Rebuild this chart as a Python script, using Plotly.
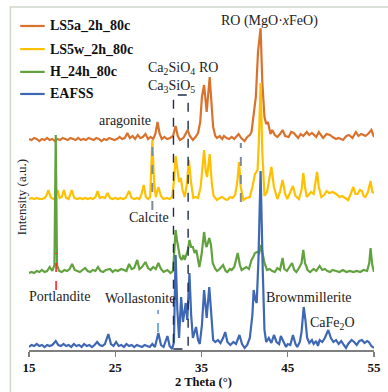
import plotly.graph_objects as go

# ---------------- data (2-theta in degrees, intensity in a.u.) ----------------
theta_eafss = [15.0, 15.3, 15.6, 15.9, 16.2, 16.5, 16.8, 17.1, 17.4, 17.7, 18.1, 18.4, 18.7, 19.0, 19.3, 19.6, 19.9,
               20.2, 20.5, 20.8, 21.1, 21.4, 21.7, 22.0, 22.3, 22.6, 22.9, 23.2, 23.5, 23.8, 24.2, 24.5, 24.8, 25.1,
               25.4, 25.7, 26.0, 26.3, 26.6, 26.9, 27.2, 27.5, 27.8, 28.1, 28.4, 28.7, 29.0, 29.3, 29.6, 30.0, 30.3,
               30.6, 31.05, 31.3, 31.6, 31.8, 32.0, 32.2, 32.4, 32.64, 32.85, 33.17, 33.35, 33.6, 33.8, 34.0, 34.37,
               34.6, 34.8, 35.05, 35.3, 35.6, 35.9, 36.1, 36.35, 36.6, 36.9, 37.2, 37.5, 37.75, 38.0, 38.35, 38.7,
               39.0, 39.4, 39.7, 40.0, 40.3, 40.6, 40.9, 41.05, 41.25, 41.4, 41.6, 41.85, 42.1, 42.3, 42.5, 42.8,
               43.1, 43.4, 43.7, 44.0, 44.2, 44.5, 44.8, 45.0, 45.3, 45.6, 45.9, 46.1, 46.4, 46.6, 46.85, 47.05,
               47.25, 47.5, 47.8, 48.0, 48.3, 48.5, 48.7, 49.0, 49.3, 49.7, 50.0, 50.3, 50.6, 50.9, 51.2, 51.5,
               51.75, 52.0, 52.4, 52.7, 53.0, 53.3, 53.6, 53.9, 54.2, 54.4, 54.7, 55.0]
int_eafss = [3, 5, 4, 6, 4, 5, 3, 5, 4, 5, 9, 5, 4, 6, 4, 5, 3,
             6, 4, 5, 3, 6, 4, 5, 3, 5, 8, 5, 4, 6, 16, 6, 4, 8,
             4, 5, 3, 6, 4, 5, 3, 5, 4, 3, 5, 4, 3, 6, 3, 17, 5,
             3, 14, 4, 1, 8, 95, 40, 12, 53, 28, 47, 30, 77, 35, 12, 23,
             10, 6, 25, 60, 32, 63, 40, 10, 8, 10, 7, 12, 18, 8, 5, 8,
             6, 15, 6, 2, 5, 12, 35, 60, 50, 47, 90, 179, 80, 20, 8, 12,
             7, 15, 8, 6, 14, 8, 3, 6, 5, 15, 6, 3, 8, 18, 43, 30,
             12, 7, 10, 6, 9, 4, 10, 8, 12, 20, 12, 8, 10, 6, 9, 5,
             2, 6, 10, 8, 5, 9, 10, 7, 9, 8, 4, 2]

theta_h24 = [15.0, 15.3, 15.6, 15.9, 16.2, 16.5, 16.8, 17.1, 17.4, 17.7, 17.95, 18.1, 18.25, 18.5, 18.8, 19.1,
             19.4, 19.7, 20.0, 20.3, 20.6, 20.9, 21.2, 21.5, 21.8, 22.1, 22.4, 22.7, 23.0, 23.3, 23.6, 23.9, 24.4,
             24.7, 25.0, 25.3, 25.7, 26.0, 26.3, 26.6, 26.9, 27.2, 27.55, 27.8, 28.1, 28.5, 28.8, 29.1, 29.4,
             29.7, 30.0, 30.3, 30.6, 31.05, 31.4, 31.7, 31.85, 32.0, 32.15, 32.3, 32.5, 32.7, 32.9, 33.05, 33.25,
             33.45, 33.6, 33.8, 34.0, 34.2, 34.4, 34.6, 34.75, 35.0, 35.3, 35.5, 35.6, 35.9, 36.1, 36.3, 36.6,
             36.8, 37.1, 37.5, 37.8, 38.0, 38.3, 38.5, 38.8, 39.2, 39.45, 39.65, 40.0, 40.2, 40.5, 40.8, 41.0,
             41.2, 41.45, 41.7, 41.9, 42.1, 42.3, 42.6, 42.9, 43.2, 43.5, 43.8, 44.1, 44.4, 44.6, 44.9, 45.2,
             45.5, 45.75, 46.0, 46.3, 46.6, 46.8, 47.0, 47.3, 47.6, 48.0, 48.3, 48.7, 49.0, 49.3, 49.6, 49.9,
             50.2, 50.6, 51.0, 51.4, 51.8, 52.2, 52.6, 53.0, 53.4, 53.8, 54.2, 54.45, 54.6, 54.8, 55.0]
int_h24 = [2, 3, 2, 4, 3, 5, 3, 4, 8, 4, 10, 140, 10, 4, 3, 5,
           4, 6, 11, 5, 4, 3, 5, 7, 4, 3, 5, 4, 8, 4, 3, 5, 6,
           3, 5, 4, 6, 5, 4, 11, 6, 7, 15, 6, 8, 13, 7, 5, 8,
           6, 12, 6, 3, 5, 2, 4, 20, 45, 35, 28, 18, 15, 20, 15, 20,
           26, 35, 28, 28, 22, 25, 15, 8, 20, 43, 30, 28, 37, 30, 12, 6,
           4, 6, 10, 4, 3, 6, 5, 8, 22, 10, 5, 7, 8, 6, 15, 18,
           22, 23, 22, 30, 20, 12, 5, 6, 4, 3, 7, 5, 17, 6, 4, 8,
           12, 5, 3, 7, 12, 25, 12, 5, 3, 6, 4, 9, 5, 6, 4, 3,
           5, 4, 3, 5, 3, 4, 3, 4, 3, 5, 4, 12, 27, 10, 3]

theta_ls5w = [15.0, 15.3, 15.6, 15.9, 16.2, 16.5, 16.8, 17.0, 17.25, 17.5, 17.8, 18.0, 18.3, 18.55, 18.8, 19.05,
              19.3, 19.6, 19.95, 20.25, 20.6, 20.9, 21.2, 21.5, 21.8, 22.1, 22.4, 22.7, 22.95, 23.2, 23.5, 23.8,
              24.1, 24.4, 24.7, 25.0, 25.3, 25.6, 25.9, 26.2, 26.6, 26.9, 27.2, 27.5, 27.8, 28.05, 28.3, 28.55,
              28.8, 29.05, 29.3, 29.5, 29.7, 30.0, 30.3, 30.6, 31.0, 31.3, 31.6, 31.85, 32.0, 32.2, 32.4, 32.6,
              32.8, 33.05, 33.3, 33.55, 33.75, 34.05, 34.3, 34.6, 34.9, 35.3, 35.5, 35.65, 35.95, 36.2, 36.4,
              36.8, 37.1, 37.4, 37.7, 38.0, 38.3, 38.6, 38.9, 39.15, 39.35, 39.55, 39.85, 40.2, 40.6, 40.9, 41.2,
              41.5, 41.65, 41.85, 42.05, 42.3, 42.6, 43.1, 43.4, 43.8, 44.1, 44.4, 44.7, 44.95, 45.3, 45.6, 45.9,
              46.3, 46.6, 46.8, 47.0, 47.2, 47.5, 47.7, 48.0, 48.4, 48.6, 48.9, 49.2, 49.5, 49.8, 50.2, 50.6,
              51.0, 51.3, 51.6, 52.0, 52.3, 52.6, 52.85, 53.1, 53.35, 53.6, 53.8, 54.0, 54.3, 54.6, 54.8, 55.0]
int_ls5w = [3, 4, 3, 4, 3, 3, 4, 6, 12, 5, 3, 4, 12, 4, 5, 12,
            4, 3, 12, 4, 3, 4, 3, 4, 3, 4, 3, 5, 11, 4, 5, 4,
            9, 4, 3, 4, 3, 4, 3, 4, 11, 4, 3, 4, 3, 8, 17, 5,
            3, 5, 62, 20, 5, 15, 6, 3, 4, 3, 5, 25, 46, 30, 20, 24,
            12, 5, 18, 42, 22, 4, 5, 4, 15, 52, 30, 25, 48, 18, 6,
            2, 4, 5, 3, 2, 5, 4, 7, 20, 40, 15, 2, 4, 5, 15, 28,
            32, 60, 119, 50, 6, 10, 35, 15, 3, 10, 22, 8, 3, 10, 16, 6,
            3, 12, 29, 15, 5, 8, 10, 8, 30, 15, 5, 7, 11, 9, 10, 8,
            5, 6, 4, 2, 8, 15, 8, 8, 12, 11, 6, 5, 10, 21, 10, 9]

theta_ls5a = [15.0, 15.3, 15.6, 15.9, 16.2, 16.5, 16.8, 17.1, 17.4, 17.7, 18.0, 18.3, 18.6, 18.9, 19.2, 19.5,
              19.8, 20.1, 20.4, 20.7, 21.0, 21.3, 21.6, 21.9, 22.2, 22.5, 22.8, 23.1, 23.4, 23.7, 24.0, 24.3,
              24.6, 24.9, 25.2, 25.5, 25.8, 26.1, 26.4, 26.7, 27.0, 27.3, 27.6, 27.9, 28.2, 28.5, 28.8, 29.1,
              29.4, 29.65, 29.9, 30.15, 30.4, 30.7, 31.0, 31.35, 31.7, 32.0, 32.25, 32.5, 32.9, 33.15, 33.4,
              33.65, 34.0, 34.3, 34.6, 34.85, 35.05, 35.3, 35.5, 35.6, 35.95, 36.15, 36.35, 36.6, 36.8, 37.1,
              37.4, 37.6, 37.9, 38.2, 38.5, 38.8, 39.0, 39.3, 39.6, 40.0, 40.3, 40.6, 40.8, 41.05, 41.3, 41.55,
              41.85, 42.05, 42.3, 42.5, 42.7, 43.0, 43.2, 43.5, 43.8, 44.1, 44.4, 44.7, 45.1, 45.4, 45.7, 46.0,
              46.2, 46.5, 46.8, 47.2, 47.5, 47.8, 48.0, 48.3, 48.6, 48.9, 49.1, 49.5, 49.9, 50.2, 50.6, 50.9,
              51.4, 51.8, 52.1, 52.5, 52.9, 53.2, 53.5, 53.8, 54.0, 54.3, 54.7, 55.0]
int_ls5a = [3, 2, 4, 3, 1, 3, 2, 4, 2, 3, 1, 3, 2, 4, 3, 2,
            4, 3, 2, 4, 2, 3, 2, 4, 3, 2, 4, 3, 1, 3, 2, 4,
            3, 2, 3, 5, 3, 4, 9, 4, 6, 3, 7, 4, 5, 8, 3, 5,
            3, 8, 20, 8, 3, 5, 3, 4, 6, 16, 6, 2, 4, 8, 12,
            6, 2, 5, 9, 20, 45, 57, 32, 30, 65, 35, 15, 6, 4, 6,
            3, 6, 4, 3, 5, 3, 5, 8, 4, 1, 5, 7, 10, 28, 45, 90,
            114, 60, 25, 18, 20, 8, 12, 7, 5, 8, 12, 6, 5, 10, 9, 6,
            4, 8, 6, 10, 7, 9, 7, 5, 10, 6, 4, 8, 7, 5, 3, 4,
            2, 6, 7, 4, 10, 6, 8, 7, 6, 8, 12, 5]

series_names = ["LS5a_2h_80c", "LS5w_2h_80c", "H_24h_80c", "EAFSS"]
x_ticks = [15, 25, 35, 45, 55]

# ---------------- styling ----------------
colors = ["#D9722D", "#FFC000", "#62A23E", "#3E67B4"]
offsets = [208, 148, 75, 0]          # vertical stacking offsets
series_x = [theta_ls5a, theta_ls5w, theta_h24, theta_eafss]
series_y = [int_ls5a, int_ls5w, int_h24, int_eafss]

SERIF = "Liberation Serif, Times New Roman, serif"

fig = go.Figure()
for name, xs, ys, off, col in zip(series_names, series_x, series_y, offsets, colors):
    fig.add_trace(go.Scatter(x=xs, y=[v + off for v in ys], mode="lines", name=name,
                             line=dict(color=col, width=2.2), showlegend=False))

# reference lines: (2theta, y0, y1, colour, width, dash)
ref_lines = [(29.3, 140, 210, "#7D8A99", 2, "dash"),
             (39.56, 148, 207, "#7D8A99", 2, "dash"),
             (18.14, 60, 97, "#FF2020", 1.6, "dash"),
             (29.96, 18, 40, "#5B9BD5", 1.6, "dash")]
shapes = []
for x0, y0, y1, c, w, d in ref_lines:
    shapes.append(dict(type="line", xref="x", yref="y", x0=x0, x1=x0, y0=y0, y1=y1,
                       line=dict(color=c, width=w, dash=d)))
# Ca2SiO4 / Ca3SiO5 box
shapes.append(dict(type="rect", xref="x", yref="y", x0=31.75, x1=33.45, y0=1, y1=255,
                   line=dict(color="#1F2D4A", width=1.4, dash="dash")))
# figure frame
shapes.append(dict(type="rect", xref="paper", yref="paper", x0=-0.054, x1=1.2, y0=-0.3, y1=1.0088,
                   line=dict(color="#CDD6C8", width=1.5)))

# manual legend
leg_rows = [0.953, 0.885, 0.818, 0.753]
annotations = []
for name, col, yy in zip(series_names, colors, leg_rows):
    shapes.append(dict(type="line", xref="paper", yref="paper", x0=-0.0255, x1=0.0455, y0=yy, y1=yy,
                       line=dict(color=col, width=2.2)))
    annotations.append(dict(xref="paper", yref="paper", x=0.054, y=yy, text="<b>%s</b>" % name,
                            showarrow=False, xanchor="left", yanchor="middle",
                            font=dict(family=SERIF, size=14, color="#111111")))

labels = [("RO (MgO·<i>x</i>FeO)", 42.88, 329),
          ("RO", 35.85, 283),
          ("Ca<sub>2</sub>SiO<sub>4</sub>", 31.54, 282),
          ("Ca<sub>3</sub>SiO<sub>5</sub>", 31.54, 264),
          ("aragonite", 26.1, 230),
          ("Calcite", 28.94, 133),
          ("Portlandite", 18.5, 54),
          ("Wollastonite", 27.9, 52),
          ("Brownmillerite", 47.5, 53),
          ("CaFe<sub>2</sub>O", 50.24, 27)]
for t, x, y in labels:
    annotations.append(dict(xref="x", yref="y", x=x, y=y, text=t, showarrow=False,
                            xanchor="center", yanchor="middle",
                            font=dict(family=SERIF, size=14, color="#222222")))

annotations.append(dict(xref="paper", yref="paper", x=-0.0227, y=0.45, text="Intensity (a.u.)",
                        textangle=-90, showarrow=False, xanchor="center", yanchor="middle",
                        font=dict(family=SERIF, size=13, color="#222222")))
annotations.append(dict(xref="paper", yref="paper", x=0.507, y=-0.094, text="<b>2 Theta (°)</b>",
                        showarrow=False, xanchor="center", yanchor="middle",
                        font=dict(family=SERIF, size=12.5, color="#111111")))

fig.update_layout(
    width=388, height=392,
    margin=dict(l=29, r=7, t=10, b=42),
    paper_bgcolor="white", plot_bgcolor="white",
    shapes=shapes, annotations=annotations,
    xaxis=dict(range=[15, 55], tickvals=x_ticks, ticktext=["<b>%d</b>" % v for v in x_ticks],
               showgrid=False, zeroline=False, showline=True, linecolor="#7F7F7F", linewidth=1.5,
               ticks="outside", ticklen=5, tickcolor="#7F7F7F", tickwidth=1.2,
               ticklabeloverflow="allow",
               tickfont=dict(family=SERIF, size=13, color="#111111")),
    yaxis=dict(range=[0, 340], visible=False, showgrid=False, zeroline=False),
)

# remove the browser's default 8px body margin so the figure fills the window exactly
fig.write_html("out.html",
               config={"staticPlot": True, "displayModeBar": False},
               post_script="document.body.style.margin='0px';document.body.style.overflow='hidden';")
